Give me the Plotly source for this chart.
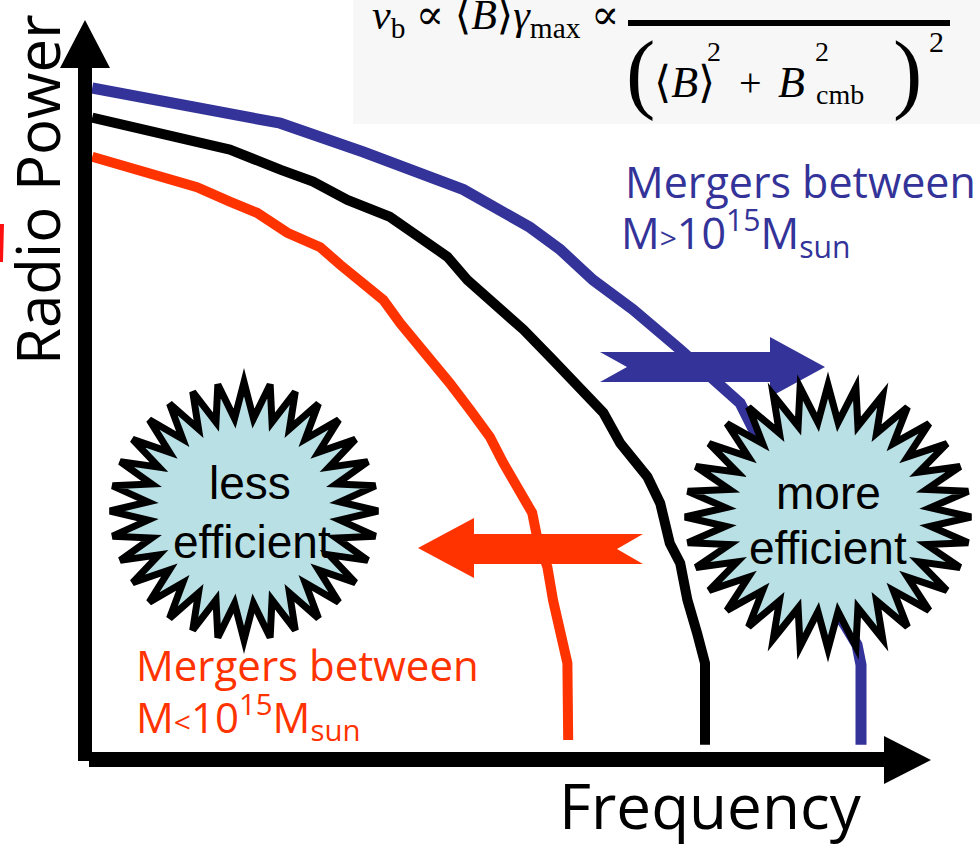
import plotly.graph_objects as go
import numpy as np

W, H = 980, 846

# Schematic radio spectra (arbitrary units): frequency vs radio power
freq_massive = [0.09, 1.19, 2.44, 3.48, 4.73, 5.56, 5.94, 6.35, 6.85, 7.44, 7.90, 8.19,
                8.40, 8.63, 8.94, 9.25, 9.50, 9.65, 9.70, 9.70]
power_massive = [8.40, 8.21, 7.96, 7.60, 7.13, 6.66, 6.38, 6.00, 5.63, 5.13, 4.71, 4.46,
                 4.04, 3.50, 2.75, 2.06, 1.69, 1.44, 1.19, 0.19]

freq_typical = [0.09, 1.19, 1.81, 2.44, 2.85, 3.28, 3.81, 4.10, 4.53, 4.78, 5.06, 5.48,
                5.85, 6.19, 6.48, 6.69, 7.03, 7.19, 7.31, 7.44, 7.53, 7.65, 7.75, 7.75]
power_typical = [8.03, 7.79, 7.63, 7.38, 7.23, 7.00, 6.79, 6.59, 6.29, 6.00, 5.75, 5.38,
                 5.00, 4.66, 4.34, 3.96, 3.54, 3.21, 2.71, 2.46, 2.00, 1.59, 1.21, 0.19]

freq_minor = [0.09, 0.98, 1.40, 1.81, 2.15, 2.53, 2.94, 3.19, 3.48, 3.73, 3.94, 4.23,
              4.56, 4.81, 5.06, 5.23, 5.44, 5.59, 5.65, 5.78, 5.85, 5.94, 6.03, 6.04]
power_minor = [7.54, 7.29, 7.16, 6.98, 6.84, 6.59, 6.41, 6.19, 5.96, 5.75, 5.46, 5.13,
               4.71, 4.38, 4.04, 3.71, 3.38, 3.09, 2.79, 2.41, 2.00, 1.59, 1.21, 0.25]

BLUE = "#333399"
RED = "#ff3300"
STAR_FILL = "#b9e0e4"
HAND = "Open Sans"
SERIF = "Liberation Serif, DejaVu Serif, serif"
SANS = "Liberation Sans, Arial, sans-serif"

# 80 px per unit, axis corner at pixel (85, 760)
X0, Y0, S = 85, 760, 80
x_range = [-X0 / S, (W - X0) / S]
y_range = [-(H - Y0) / S, Y0 / S]


def px(x):
    return x / W


def py(y):
    return 1 - y / H


def path(points):
    s = "M " + " L ".join(f"{px(x):.5f},{py(y):.5f}" for x, y in points)
    return s + " Z"


def star(cx, cy, rx, ry, n=32, ratio=0.72):
    pts = []
    for k in range(2 * n):
        a = np.pi / 2 + k * np.pi / n
        f = 1.0 if k % 2 == 0 else ratio
        pts.append((cx + rx * f * np.cos(a), cy - ry * f * np.sin(a)))
    return path(pts)


fig = go.Figure()
for fx, pw, col, wd in [(freq_massive, power_massive, BLUE, 11),
                        (freq_typical, power_typical, "black", 10),
                        (freq_minor, power_minor, RED, 10)]:
    fig.add_trace(go.Scatter(x=fx, y=pw, mode="lines",
                             line=dict(color=col, width=wd), hoverinfo="skip"))

shapes = [
    # formula panel
    dict(type="rect", xref="paper", yref="paper", x0=px(353), x1=1, y0=py(124), y1=1,
         fillcolor="#f7f7f7", line_width=0, layer="below"),
    # fraction bar
    dict(type="rect", xref="paper", yref="paper", x0=px(628), x1=px(950), y0=py(26), y1=py(20),
         fillcolor="black", line_width=0),
    # vertical axis arrow
    dict(type="path", xref="paper", yref="paper",
         path=path([(78, 761), (78, 68), (60, 68), (85, 20), (110, 68), (92, 68), (92, 761)]),
         fillcolor="black", line_width=0, layer="above"),
    # horizontal axis arrow
    dict(type="path", xref="paper", yref="paper",
         path=path([(89, 752), (884, 752), (884, 736), (931, 760), (884, 784), (884, 767), (89, 767)]),
         fillcolor="black", line_width=0, layer="above"),
    # shift arrows
    dict(type="path", xref="paper", yref="paper",
         path=path([(600, 352), (770, 352), (770, 337), (825, 367), (770, 397), (770, 382),
                    (600, 382), (627, 367)]),
         fillcolor=BLUE, line_width=0, layer="above"),
    dict(type="path", xref="paper", yref="paper",
         path=path([(418, 548), (474, 518), (474, 534), (643, 534), (617, 549), (643, 564),
                    (474, 564), (474, 578)]),
         fillcolor=RED, line_width=0, layer="above"),
    # starbursts
    dict(type="path", xref="paper", yref="paper", path=star(244, 511, 134, 129),
         fillcolor=STAR_FILL, line=dict(color="black", width=7), layer="above"),
    dict(type="path", xref="paper", yref="paper", path=star(828, 517, 143, 132),
         fillcolor=STAR_FILL, line=dict(color="black", width=7), layer="above"),
    # red mark at the left edge
    dict(type="path", xref="paper", yref="paper",
         path=path([(0, 224), (4, 224), (3, 262), (0, 262)]),
         fillcolor="#ff1010", line_width=0, layer="above"),
]

annotations = []


def ann(text, x, y, size, color="black", family=HAND, xanchor="center",
        yanchor="middle", angle=0):
    annotations.append(dict(text=text, x=px(x), y=py(y), xref="paper", yref="paper",
                            showarrow=False, xanchor=xanchor, yanchor=yanchor,
                            textangle=angle, font=dict(size=size, color=color, family=family)))


# axis titles
ann("Radio Power", 37, 190, 60, angle=-90)
ann("Frequency", 710, 805, 62)

# group labels
small_gt = '<span style="font-size:30px">&gt;</span>'
small_lt = '<span style="font-size:30px">&lt;</span>'
ann("Mergers between", 623, 182, 43, BLUE, xanchor="left")
ann(f"M{small_gt}10<sup>15</sup>M<sub>sun</sub>", 619, 233, 43, BLUE, xanchor="left")
ann("Mergers between", 134, 664, 42, RED, xanchor="left")
ann(f"M{small_lt}10<sup>15</sup>M<sub>sun</sub>", 134, 717, 42, RED, xanchor="left")

# starburst captions
ann("less", 250, 483, 46, family=SANS)
ann("efficient", 252, 542, 46, family=SANS)
ann("more", 828, 493, 46, family=SANS)
ann("efficient", 828, 548, 46, family=SANS)

# break frequency relation
ann("<i>ν</i><sub>b</sub> ∝ ⟨<i>B</i>⟩<i>γ</i><sub>max</sub> ∝", 370, 18, 42, family=SERIF,
    xanchor="left")
ann("(", 624, 72, 88, family=SERIF, xanchor="left")
ann("⟨<i>B</i>⟩", 652, 82, 44, family=SERIF, xanchor="left")
ann("2", 714, 52, 28, family=SERIF)
ann("+", 750, 82, 40, family=SERIF)
ann("<i>B</i>", 776, 82, 44, family=SERIF, xanchor="left")
ann("2", 822, 52, 28, family=SERIF)
ann("cmb", 814, 94, 28, family=SERIF, xanchor="left")
ann(")", 924, 72, 88, family=SERIF, xanchor="right")
ann("2", 936, 42, 30, family=SERIF)

fig.update_layout(
    width=W, height=H, margin=dict(l=0, r=0, t=0, b=0),
    paper_bgcolor="white", plot_bgcolor="white", showlegend=False,
    xaxis=dict(range=x_range, visible=False, fixedrange=True),
    yaxis=dict(range=y_range, visible=False, fixedrange=True),
    shapes=shapes, annotations=annotations,
)

fig.write_html("out.html")
